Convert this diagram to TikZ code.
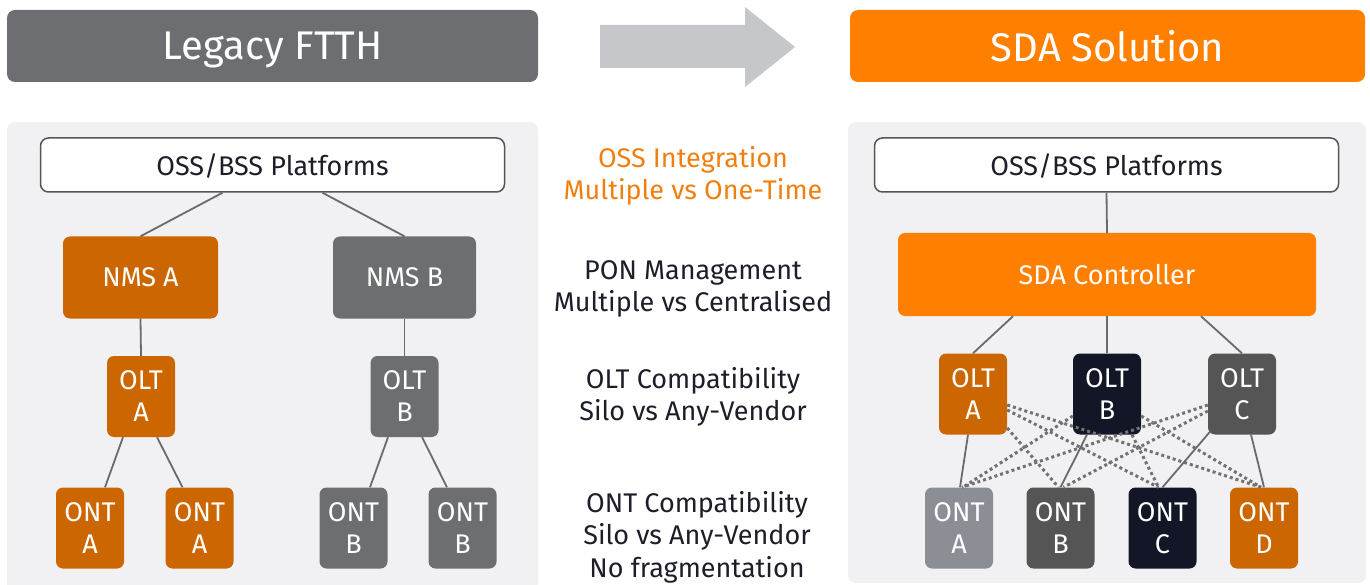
\documentclass[tikz,border=0pt]{standalone}
\usepackage{fontspec}
\setmainfont{Fira Sans}
\usetikzlibrary{calc}
\definecolor{hdrGray}{HTML}{6D6E71}
\definecolor{arrowGray}{HTML}{C6C7CB}
\definecolor{sdaOrange}{HTML}{FF8000}
\definecolor{darkOrange}{HTML}{CC6600}
\definecolor{panelBg}{HTML}{F1F1F4}
\definecolor{boxBorder}{HTML}{555555}
\definecolor{textDark}{HTML}{1E1E2A}
\definecolor{navy}{HTML}{131627}
\definecolor{darkGray}{HTML}{555555}
\definecolor{midGray}{HTML}{6D6E70}
\definecolor{lightGray}{HTML}{8C8E96}
\definecolor{lineGray}{HTML}{6A6A6A}
\definecolor{dotGray}{HTML}{727272}
\definecolor{midOrange}{HTML}{F07F10}
\begin{document}
\begin{tikzpicture}[x=1pt,y=-1pt,
  box/.style={rectangle, rounded corners=7pt, inner sep=0pt, align=center, text=white,
    text depth=0pt, font=\fontsize{27}{32}\selectfont},
  hdr/.style={rectangle, rounded corners=8pt, inner sep=0pt, text=white, text depth=0pt,
    minimum width=#1, minimum height=72pt, font=\fontsize{40}{46}\selectfont},
  panel/.style={fill=panelBg, rounded corners=8pt},
  oss/.style={rectangle, rounded corners=8pt, draw=boxBorder, line width=1.5pt, fill=white,
    text depth=0pt, minimum width=464pt, minimum height=54pt, text=textDark,
    font=\fontsize{27}{30}\selectfont},
  nms/.style={box, minimum width=#1, minimum height=82pt},
  small/.style={box, minimum width=68pt, minimum height=81pt},
  ln/.style={draw=lineGray, line width=1.8pt},
  dl/.style={draw=dotGray, line width=3pt, dash pattern=on 3pt off 3pt},
  mid/.style={align=center, text=textDark, text depth=0pt, inner sep=0pt,
    font=\fontsize{27}{32.5}\selectfont}
]
\useasboundingbox (0,0) rectangle (1370,585);
% headers
\node[hdr=531pt, fill=hdrGray] (hL) at (272.5,46) {Legacy FTTH};
\node[hdr=515pt, fill=sdaOrange] (hR) at (1107.5,46) {SDA Solution};
\fill[arrowGray] (600,25) -- (745,25) -- (745,7) -- (795,47) -- (745,87) -- (745,68) -- (600,68) -- cycle;
% panels
\fill[panel] (7,122) rectangle (538,592);
\fill[panel] (848,122) rectangle (1366,583);
% left diagram
\node[oss] (ossL) at (272.5,165) {OSS/BSS Platforms};
\node[nms=155pt, fill=darkOrange] (nmsA) at (140.5,277.5) {NMS A};
\node[nms=143pt, fill=midGray] (nmsB) at (404.5,277.5) {NMS B};
\node[small, fill=darkOrange] (oltAL) at (141,396.5) {OLT\\A};
\node[small, fill=midGray] (oltBL) at (404.5,396.5) {OLT\\B};
\node[small, fill=darkOrange] (ontA1) at (90,528) {ONT\\A};
\node[small, fill=darkOrange] (ontA2) at (199.5,528) {ONT\\A};
\node[small, fill=midGray] (ontB1) at (353.5,528) {ONT\\B};
\node[small, fill=midGray] (ontB2) at (462.5,528) {ONT\\B};
\draw[ln] ([xshift=-50pt]ossL.south) -- (nmsA.north);
\draw[ln] ([xshift=50pt]ossL.south) -- (nmsB.north);
\draw[ln] (nmsA.south) -- (oltAL.north);
\draw[ln] (nmsB.south) -- (oltBL.north);
\draw[ln] ([xshift=-18pt]oltAL.south) -- ([xshift=15pt]ontA1.north);
\draw[ln] ([xshift=16pt]oltAL.south) -- ([xshift=-17pt]ontA2.north);
\draw[ln] ([xshift=-16.5pt]oltBL.south) -- ([xshift=16.5pt]ontB1.north);
\draw[ln] ([xshift=17.5pt]oltBL.south) -- ([xshift=-15.5pt]ontB2.north);
% middle text
\node[mid, text=midOrange] (t1) at (693,173) {OSS Integration\\Multiple vs One-Time};
\node[mid] (t2) at (693,286) {PON Management\\Multiple vs Centralised};
\node[mid] (t3) at (693,394) {OLT Compatibility\\Silo vs Any-Vendor};
\node[mid] (t4) at (697,534) {ONT Compatibility\\Silo vs Any-Vendor\\No fragmentation};
% right diagram
\node[oss] (ossR) at (1106.5,165) {OSS/BSS Platforms};
\node[nms=418pt, fill=sdaOrange, minimum height=83pt] (sda) at (1107,274.5) {SDA Controller};
\node[small, fill=darkOrange] (oltA) at (973,394) {OLT\\A};
\node[small, fill=navy] (oltB) at (1107,394) {OLT\\B};
\node[small, fill=darkGray] (oltC) at (1242,394) {OLT\\C};
\node[small, fill=lightGray] (ontA) at (959,528) {ONT\\A};
\node[small, fill=darkGray] (ontB) at (1060.5,528) {ONT\\B};
\node[small, fill=navy] (ontC) at (1162.5,528) {ONT\\C};
\node[small, fill=darkOrange] (ontD) at (1264,528) {ONT\\D};
\draw[ln] (ossR.south) -- (sda.north);
\draw[ln] ([xshift=-94pt]sda.south) -- (oltA.north);
\draw[ln] (sda.south) -- (oltB.north);
\draw[ln] ([xshift=94pt]sda.south) -- (oltC.north);
% dotted mesh
\draw[dl] ([yshift=-11pt]oltA.east) -- ([xshift=-3pt]ontD.north);
\draw[dl] ([yshift=-16pt]oltA.east) -- ([xshift=-4pt]ontC.north);
\draw[dl] ([yshift=-34pt]oltA.east) -- ([xshift=-2pt]ontB.north);
\draw[dl] ([yshift=-22pt]oltB.west) -- ([xshift=4pt]ontA.north);
\draw[dl] ([xshift=25pt]oltB.south) -- ([xshift=-4pt]ontC.north);
\draw[dl] ([yshift=-22pt]oltB.east) -- ([xshift=-3pt]ontD.north);
\draw[dl] ([yshift=-11pt]oltC.west) -- ([xshift=3pt]ontA.north);
\draw[dl] ([yshift=-17pt]oltC.west) -- ([xshift=3pt]ontB.north);
% solid links
\draw[ln] ([xshift=-5pt]oltA.south) -- ([xshift=1pt]ontA.north);
\draw[ln] ([xshift=-20pt]oltB.south) -- (ontB.north);
\draw[ln] ([xshift=-32pt,yshift=3pt]oltC.south) -- (ontC.north);
\draw[ln] ([xshift=9pt]oltC.south) -- (ontD.north);
\end{tikzpicture}
\end{document}
